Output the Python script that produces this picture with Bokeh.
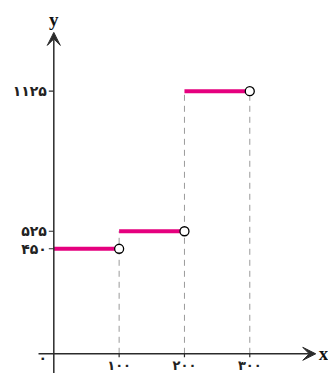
from bokeh.plotting import figure
from bokeh.models import Arrow, VeeHead
from bokeh.core.properties import value
from bokeh.embed import file_html
from bokeh.resources import INLINE

# data
seg_start = [0, 100, 200]
seg_end = [100, 200, 300]
seg_val = [450, 525, 1125]
jump_x = [100, 200, 300]
jump_top = [525, 1125, 1125]
x_ticks = [100, 200, 300]
x_labels = ["۱۰۰", "۲۰۰", "۳۰۰"]
y_ticks = [450, 525, 1125]
y_labels = ["۴۵۰", "۵۲۵", "۱۱۲۵"]

W, H = 328, 373
X0, X1 = -81.6, 420.5
Y0, Y1 = -84.4, 1513.7
PX_X = (X1 - X0) / W   # data units per pixel
PX_Y = (Y1 - Y0) / H

p = figure(width=W, height=H, output_backend="svg", toolbar_location=None,
           x_range=(X0, X1), y_range=(Y0, Y1), x_axis_type=None, y_axis_type=None,
           min_border=0, outline_line_color=None)
p.grid.visible = False

FONT = value("DejaVu Sans")
AX = "#2b2b2b"

# dashed guide lines
p.segment(x0=jump_x, y0=[0] * 3, x1=jump_x, y1=jump_top,
          line_color="#9a9a9a", line_width=1, line_dash="6 5")

# axes
p.add_layout(Arrow(x_start=-23.4, y_start=0, x_end=401, y_end=0, line_color=AX, line_width=1.5,
                   end=VeeHead(size=13, fill_color=AX, line_color=AX, line_width=1)))
p.add_layout(Arrow(x_start=0, y_start=Y0, x_end=0, y_end=1377, line_color=AX, line_width=1.5,
                   end=VeeHead(size=13, fill_color=AX, line_color=AX, line_width=1)))

# ticks
p.segment(x0=x_ticks, y0=[0] * 3, x1=x_ticks, y1=[-3.5 * PX_Y] * 3, line_color=AX, line_width=1.2)
p.segment(x0=[-5 * PX_X] * 3, y0=y_ticks, x1=[0] * 3, y1=y_ticks, line_color=AX, line_width=1.2)

# step segments
p.segment(x0=seg_start, y0=seg_val, x1=seg_end, y1=seg_val, line_color="#E5007E", line_width=4)
p.scatter(x=seg_end, y=seg_val, size=9, fill_color="white", line_color="black", line_width=1.3)

# tick labels
p.text(x=x_ticks, y=[0] * 3, text=x_labels, text_font=FONT, text_font_size="13px",
       text_font_style="bold", text_align="center", text_baseline="middle", y_offset=12,
       text_color="#222")
p.text(x=[0] * 3, y=y_ticks, text=y_labels, text_font=FONT, text_font_size="14px",
       text_font_style="bold", text_align="right", text_baseline="middle", x_offset=-7,
       text_color="#222")
p.text(x=[0], y=[0], text=["۰"], text_font=FONT, text_font_size="14px", text_font_style="bold",
       text_align="center", text_baseline="middle", x_offset=-11, y_offset=4, text_color="#222")

# axis names
p.text(x=[0], y=[1377], text=["y"], text_font=value("Liberation Serif"), text_font_style="bold",
       text_font_size="19px", text_align="center", text_baseline="bottom", y_offset=-2, text_color="#111")
p.text(x=[401], y=[0], text=["x"], text_font=value("Liberation Serif"), text_font_style="bold",
       text_font_size="19px", text_align="left", text_baseline="middle", x_offset=3, text_color="#111")

open("out.html", "w").write(file_html(p, INLINE))
